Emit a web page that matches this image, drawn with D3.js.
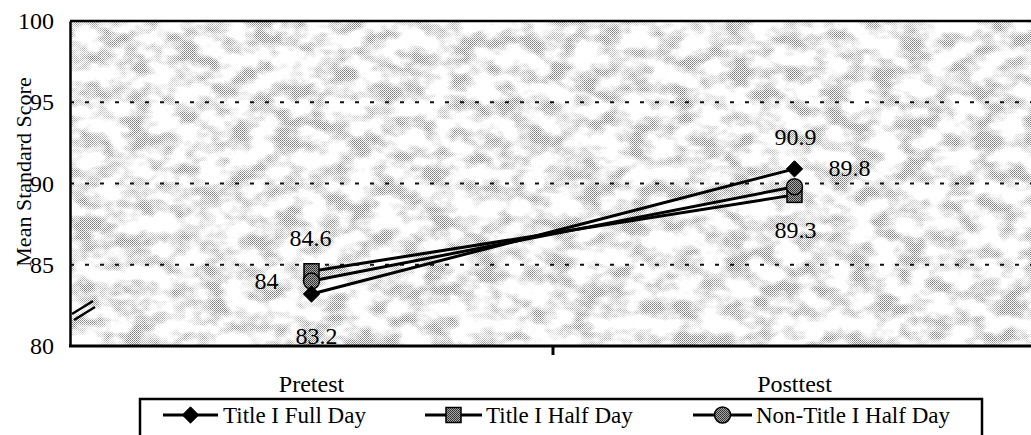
<!DOCTYPE html>
<html><head><meta charset="utf-8">
<script src="https://cdn.jsdelivr.net/npm/d3@7"></script>
<style>
html,body{margin:0;padding:0;background:#fff;}
svg{display:block;}
</style></head>
<body>
<svg id="chart" width="1031" height="435"></svg>
<script>
// ---- data ----
const categories = ["Pretest", "Posttest"];
const seriesNames = ["Title I Full Day", "Title I Half Day", "Non-Title I Half Day"];
const fullDay = [83.2, 90.9];
const halfDay = [84.6, 89.3];
const nonTitleHalfDay = [84.0, 89.8];
const yTicks = [80, 85, 90, 95, 100];
const gridValues = [85, 90, 95];
const yTitle = "Mean Standard Score";

const FONT = "'Liberation Serif'";

const series = [
  {name: seriesNames[0], values: fullDay, marker: "diamond"},
  {name: seriesNames[1], values: halfDay, marker: "square"},
  {name: seriesNames[2], values: nonTitleHalfDay, marker: "circle"}
];

const svg = d3.select("#chart");
const L = 70, R = 1036, T = 21, B = 346;

const x = d3.scaleBand().domain(categories).range([L, R]).padding(0);
const cx = c => x(c) + x.bandwidth() / 2;
const y = d3.scaleLinear().domain([80, 100]).range([B, T]);

// ---- defs: stipple texture ----
const defs = svg.append("defs");
const pat = defs.append("pattern").attr("id", "dots").attr("width", 2).attr("height", 2)
  .attr("patternUnits", "userSpaceOnUse");
pat.append("rect").attr("width", 2).attr("height", 2).attr("fill", "#fff");
pat.append("rect").attr("x", 0).attr("y", 0).attr("width", 1).attr("height", 1).attr("fill", "#7c7c7c");
pat.append("rect").attr("x", 1).attr("y", 1).attr("width", 1).attr("height", 1).attr("fill", "#959595");

const mpat = defs.append("pattern").attr("id", "mdots").attr("width", 2).attr("height", 2)
  .attr("patternUnits", "userSpaceOnUse");
mpat.append("rect").attr("width", 2).attr("height", 2).attr("fill", "#a8a8a8");
mpat.append("rect").attr("x", 0).attr("y", 0).attr("width", 1).attr("height", 1).attr("fill", "#2a2a2a");
mpat.append("rect").attr("x", 1).attr("y", 1).attr("width", 1).attr("height", 1).attr("fill", "#3a3a3a");

const filt = defs.append("filter").attr("id", "noise")
  .attr("x", 0).attr("y", 0).attr("width", 1).attr("height", 1)
  .attr("filterUnits", "objectBoundingBox");
filt.append("feTurbulence").attr("type", "fractalNoise")
  .attr("baseFrequency", "0.04 0.06").attr("numOctaves", 3).attr("seed", 7);
filt.append("feColorMatrix").attr("type", "matrix")
  .attr("values", "0 0 0 0 1  0 0 0 0 1  0 0 0 0 1  1 0 0 0 0");
const ct = filt.append("feComponentTransfer");
ct.append("feFuncA").attr("type", "linear").attr("slope", 3.4).attr("intercept", -1.4);

const mask = defs.append("mask").attr("id", "texmask")
  .attr("maskUnits", "userSpaceOnUse").attr("x", L).attr("y", T).attr("width", R - L).attr("height", B - T);
mask.append("rect").attr("x", L).attr("y", T).attr("width", R - L).attr("height", B - T)
  .attr("fill", "#fff").attr("filter", "url(#noise)");

// ---- plot background ----
svg.append("rect").attr("x", L).attr("y", T).attr("width", R - L).attr("height", B - T).attr("fill", "#fff");
svg.append("rect").attr("x", L).attr("y", T).attr("width", R - L).attr("height", B - T)
  .attr("fill", "url(#dots)").attr("mask", "url(#texmask)");

// ---- gridlines ----
svg.append("g").selectAll("line").data(gridValues).join("line")
  .attr("x1", L).attr("x2", 1031).attr("y1", d => y(d)).attr("y2", d => y(d))
  .attr("stroke", "#111").attr("stroke-width", 1.8).attr("stroke-dasharray", "4 11");

// ---- top border ----
svg.append("line").attr("x1", L).attr("x2", 1031).attr("y1", T).attr("y2", T)
  .attr("stroke", "#000").attr("stroke-width", 2.5);

// ---- y axis ----
const yAxis = svg.append("g").attr("transform", `translate(${L},0)`)
  .call(d3.axisLeft(y).tickValues(yTicks).tickSize(0).tickPadding(16).tickFormat(d3.format("d")));
yAxis.attr("font-family", null).attr("font-size", null);
yAxis.select(".domain").attr("stroke", "#000").attr("stroke-width", 2.5);
yAxis.selectAll("text").style("font-size", "24px").style("font-family", FONT).attr("fill", "#000");

// axis break marks
svg.append("line").attr("x1", 72).attr("y1", 314).attr("x2", 93).attr("y2", 301)
  .attr("stroke", "#000").attr("stroke-width", 2.5);
svg.append("line").attr("x1", 74).attr("y1", 320).attr("x2", 95).attr("y2", 307)
  .attr("stroke", "#000").attr("stroke-width", 2.5);

// y title
svg.append("text").attr("transform", `translate(31,172) rotate(-90)`)
  .attr("text-anchor", "middle").style("font-size", "22px").style("font-family", FONT).text(yTitle);

// ---- x axis ----
svg.append("line").attr("x1", L - 1).attr("x2", 1031).attr("y1", B).attr("y2", B)
  .attr("stroke", "#000").attr("stroke-width", 3);
svg.append("line").attr("x1", x(categories[1])).attr("x2", x(categories[1]))
  .attr("y1", B).attr("y2", B + 9).attr("stroke", "#000").attr("stroke-width", 3);
svg.append("g").selectAll("text").data(categories).join("text")
  .attr("x", d => cx(d)).attr("y", 392).attr("text-anchor", "middle")
  .style("font-size", "24px").style("font-family", FONT).text(d => d);

// ---- series lines ----
const line = d3.line().x((d, i) => cx(categories[i])).y(d => y(d));
svg.append("g").selectAll("path").data(series).join("path")
  .attr("d", d => line(d.values)).attr("fill", "none")
  .attr("stroke", "#000").attr("stroke-width", 3);

// ---- markers ----
function drawMarker(g, type, px, py) {
  if (type === "diamond") {
    g.append("path").attr("d", d3.symbol().type(d3.symbolDiamond2).size(170)())
      .attr("transform", `translate(${px},${py})`).attr("fill", "#000").attr("stroke", "#000").attr("stroke-width", 1);
  } else if (type === "square") {
    g.append("rect").attr("x", px - 7.5).attr("y", py - 7.5).attr("width", 15).attr("height", 15)
      .attr("fill", "url(#mdots)").attr("stroke", "#000").attr("stroke-width", 1.5);
  } else {
    g.append("circle").attr("cx", px).attr("cy", py).attr("r", 8)
      .attr("fill", "url(#mdots)").attr("stroke", "#000").attr("stroke-width", 1.5);
  }
}
const mg = svg.append("g");
[1, 2, 0].forEach(si => {
  const s = series[si];
  s.values.forEach((v, i) => drawMarker(mg, s.marker, cx(categories[i]), y(v)));
});

// ---- data labels ----
const labels = [
  {v: fullDay[0], c: 0, dx: 5, dy: 50, anchor: "middle"},
  {v: halfDay[0], c: 0, dx: -1, dy: -25, anchor: "middle"},
  {v: nonTitleHalfDay[0], c: 0, dx: -33, dy: 8, anchor: "end"},
  {v: fullDay[1], c: 1, dx: 1, dy: -24, anchor: "middle"},
  {v: nonTitleHalfDay[1], c: 1, dx: 34, dy: -11, anchor: "start"},
  {v: halfDay[1], c: 1, dx: 1, dy: 43, anchor: "middle"}
];
svg.append("g").selectAll("text").data(labels).join("text")
  .attr("x", d => cx(categories[d.c]) + d.dx).attr("y", d => y(d.v) + d.dy)
  .attr("text-anchor", d => d.anchor).style("font-size", "24px").style("font-family", FONT)
  .text(d => d3.format(".1f")(d.v).replace(/\.0$/, ""));

// ---- legend ----
const lg = svg.append("g");
lg.append("rect").attr("x", 140).attr("y", 399).attr("width", 982 - 140).attr("height", 60)
  .attr("fill", "#fff").attr("stroke", "#000").attr("stroke-width", 2.5);
const legendItems = [
  {x1: 163, x2: 218, tx: 223},
  {x1: 425, x2: 482, tx: 486},
  {x1: 693, x2: 752, tx: 756}
];
series.forEach((s, i) => {
  const it = legendItems[i];
  lg.append("line").attr("x1", it.x1).attr("x2", it.x2).attr("y1", 415).attr("y2", 415)
    .attr("stroke", "#000").attr("stroke-width", 3);
  drawMarker(lg, s.marker, (it.x1 + it.x2) / 2, 415);
  lg.append("text").attr("x", it.tx).attr("y", 423).style("font-size", "23px").style("font-family", FONT).text(s.name);
});
</script>
</body></html>
